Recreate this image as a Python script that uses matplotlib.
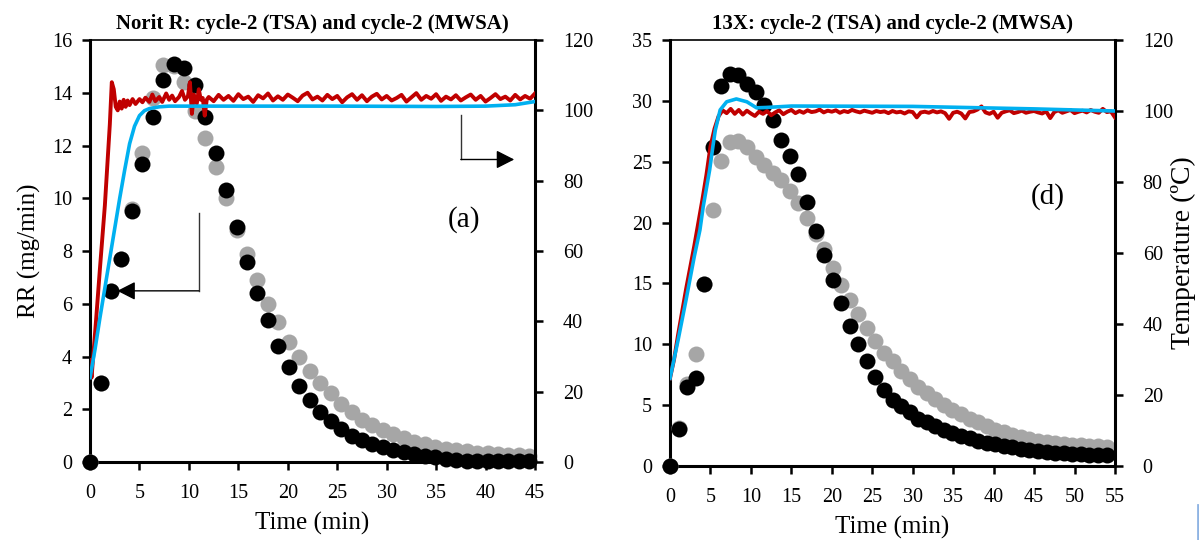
import numpy as np
import matplotlib
matplotlib.use('Agg')
from matplotlib import pyplot as plt
from matplotlib.lines import Line2D

plt.rcParams['font.family'] = ['Liberation Serif', 'DejaVu Serif']

# sampling interval of the RR points (min)
dt = 1.058

# ---- Norit R (a) ----
rr_a_tsa = [0, 3.0, 6.5, 7.7, 9.5, 11.3, 13.1, 14.5, 15.1, 14.95, 14.3, 13.1, 11.7, 10.3, 8.9,
            7.6, 6.4, 5.4, 4.4, 3.6, 2.9, 2.35, 1.9, 1.55, 1.25, 1.0, 0.83, 0.68, 0.57, 0.45,
            0.38, 0.3, 0.23, 0.19, 0.12, 0.08, 0.05, 0.04, 0.03, 0.03, 0.02, 0.02, 0.02]
rr_a_mwsa = [0, 3.0, 6.5, 7.7, 9.6, 11.7, 13.8, 15.07, 15.0, 14.4, 13.3, 12.3, 11.2, 10.0, 8.8,
             7.9, 6.9, 6.0, 5.3, 4.55, 4.0, 3.45, 3.0, 2.6, 2.2, 1.9, 1.6, 1.4, 1.2, 1.06,
             0.9, 0.76, 0.68, 0.57, 0.5, 0.45, 0.4, 0.36, 0.33, 0.3, 0.28, 0.26, 0.24]

temp_a_red_t = [0, 0.15, 0.6, 1.0, 1.5, 2.0, 2.2, 2.4, 2.6, 2.8, 3.0, 3.2, 3.4, 3.6, 3.8, 4.0,
                4.3, 4.6, 5.0, 5.3, 5.6, 6.0, 6.3, 6.6, 7.0, 7.3, 7.7, 8.0, 8.3, 8.6, 9.0, 9.3,
                9.6, 9.9, 10.1, 10.3, 10.5, 10.8, 11.0, 11.2, 11.4, 11.6, 11.8]
temp_a_red = [29, 24, 40, 55, 73, 96, 108, 106, 101, 100, 102.5, 100.5, 103, 101, 102.8, 101.5,
              103.2, 101.8, 103.2, 102.3, 103.6, 102.4, 104.5, 102.6, 103.8, 102.4, 104.8, 103,
              104.2, 102.6, 103.8, 105.5, 103, 104, 108, 99, 104.5, 102, 106, 103, 103.5, 98.5, 103]
# red plateau, 12 -> 45 min
temp_a_red_plat = [103.8, 102.6, 104.4, 103.0, 104.1, 102.7, 104.6, 103.2, 103.9, 102.4,
                   104.3, 103.4, 104.8, 102.8, 104.0, 103.0, 104.5, 103.6, 102.6, 104.2,
                   105.0, 103.1, 103.9, 102.8, 104.4, 103.2, 104.1, 102.3, 103.7, 104.6,
                   103.0, 104.3, 102.6, 103.9, 104.7, 103.1, 104.1, 102.8, 103.5, 104.4,
                   102.5, 103.7, 104.9, 103.0, 104.1, 103.3, 104.6, 102.7, 103.9, 103.1,
                   104.3, 102.8, 103.7, 104.5, 103.0, 104.1, 102.5, 103.5, 104.6, 103.2,
                   103.9, 102.8, 104.4, 103.1, 104.1, 103.3, 104.8]
temp_a_blue_t = [0, 0.5, 1, 2, 3, 3.5, 4, 4.5, 5, 5.5, 6, 7, 8, 15, 25, 35, 40, 43, 45]
temp_a_blue = [24, 32, 41, 58, 75, 83, 90.5, 95.5, 98.5, 99.9, 100.5, 101, 101.2, 101.2, 101.2,
               101.1, 101.2, 101.6, 102.5]

# ---- 13X (d) ----
rr_d_tsa = [0, 3.07, 6.5, 7.2, 14.95, 26.2, 31.2, 32.2, 32.1, 31.4, 30.7, 29.7, 28.4, 26.8, 25.5,
            24.0, 21.7, 19.3, 17.3, 15.3, 13.4, 11.5, 10.0, 8.6, 7.3, 6.25, 5.45, 4.9, 4.4, 3.9,
            3.6, 3.25, 2.96, 2.7, 2.46, 2.27, 2.08, 1.92, 1.78, 1.64, 1.53, 1.42, 1.31, 1.23,
            1.16, 1.1, 1.05, 1.0, 0.96, 0.93, 0.9, 0.88]
rr_d_mwsa = [0, 3.1, 6.7, 9.2, 14.95, 21.0, 25.1, 26.6, 26.7, 26.2, 25.4, 24.7, 24.1, 23.5, 22.6,
             21.6, 20.4, 19.1, 17.8, 16.3, 14.9, 13.6, 12.5, 11.3, 10.3, 9.3, 8.6, 7.8, 7.15, 6.5,
             5.97, 5.5, 5.0, 4.6, 4.25, 3.9, 3.6, 3.3, 3.0, 2.77, 2.55, 2.36, 2.2, 2.07, 1.97,
             1.88, 1.8, 1.74, 1.69, 1.65, 1.62, 1.6]

temp_d_red_t = [0, 0.5, 1, 2, 3, 4, 4.5, 5, 5.5, 6]
temp_d_red = [24.7, 30, 37, 50, 62, 75, 82, 90, 95, 98.5]
# red plateau, 6.5 -> 55 min
temp_d_red_plat = [100.2, 99.4, 100.6, 99.2, 100.3, 99.0, 100.1, 99.3, 98.6, 99.8,
                   99.2, 100.0, 98.8, 99.6, 100.2, 99.1, 99.8, 100.3, 99.4, 100.0,
                   99.5, 100.2, 99.7, 99.9, 100.4, 99.6, 100.1, 99.8, 100.2, 99.5,
                   100.0, 99.7, 100.3, 99.9, 99.6, 100.1, 99.8, 99.5, 100.0, 99.7,
                   99.9, 99.4, 100.0, 99.6, 99.8, 99.3, 99.9, 99.7, 98.2, 99.6,
                   99.8, 99.5, 100.0, 99.6, 99.9, 99.4, 97.8, 99.5, 99.8, 99.3,
                   97.9, 99.7, 99.9, 100.4, 101.3, 99.6, 99.2, 99.8, 98.1, 99.5,
                   99.9, 100.2, 99.4, 99.7, 100.1, 99.5, 99.8, 100.0, 99.6, 99.3,
                   99.9, 98.0, 99.7, 100.2, 99.5, 99.9, 100.3, 99.4, 99.8, 100.1,
                   99.6, 100.3, 99.8, 99.5, 100.6, 99.7, 99.9, 98.2]
temp_d_blue_t = [0, 1, 2, 3, 3.7, 4.1, 4.9, 5.3, 5.6, 6.2, 7.0, 8.2, 9.5, 10.7, 11.9, 15, 30, 45, 55]
temp_d_blue = [24.7, 35.5, 47, 59, 66.5, 73, 83.4, 90, 94.6, 100.3, 102.6, 103.4, 102.6, 100.9,
               101.0, 101.4, 101.3, 100.6, 100.0]

red = '#c00000'
blue = '#00b0f0'
gray = '#a6a6a6'
fs_tick = 14.5
fs_lab = 18


def style(ax, ax2):
    for s in ['left', 'bottom']:
        ax.spines[s].set_linewidth(2.2)
    ax.spines['top'].set_linewidth(1.2)
    ax.spines['right'].set_visible(False)
    for s in ['left', 'top', 'bottom']:
        ax2.spines[s].set_visible(False)
    ax2.spines['right'].set_linewidth(2.2)
    ax.tick_params(direction='out', length=6, width=1.8, labelsize=fs_tick, pad=7, top=False)
    ax.tick_params(axis='x', pad=10)
    ax2.tick_params(direction='out', length=6, width=1.8, labelsize=fs_tick, pad=14)


def panel(rect, title, rr_tsa, rr_mwsa, red_t, red_T, red_plat, plat_start, blue_t, blue_T, xmax, ymax, ystep):
    ax = fig.add_axes(rect)
    ax2 = ax.twinx()
    t_tsa = np.arange(len(rr_tsa)) * dt
    t_mwsa = np.arange(len(rr_mwsa)) * dt
    ax.plot(t_mwsa, rr_mwsa, 'o', color=gray, ms=11.5, mec='none', clip_on=False, zorder=3)
    ax.plot(t_tsa, rr_tsa, 'o', color='black', ms=11.5, mec='none', clip_on=False, zorder=4)
    rt = list(red_t) + list(np.linspace(plat_start, xmax, len(red_plat)))
    rT = list(red_T) + list(red_plat)
    ax2.plot(rt, rT, color=red, lw=2.8, zorder=3)
    ax2.plot(blue_t, blue_T, color=blue, lw=2.6, zorder=4)
    ax.set_xlim(0, xmax)
    ax.set_ylim(0, ymax)
    ax2.set_ylim(0, 120)
    ax.set_xticks(range(0, xmax + 1, 5))
    ax.set_yticks(np.arange(0, ymax + 0.1, ystep))
    ax2.set_yticks(range(0, 121, 20))
    ax.set_xlabel('Time (min)', fontsize=fs_lab, labelpad=6)
    ax.set_title(title, fontsize=15, fontweight='bold', pad=8)
    style(ax, ax2)
    return ax, ax2


fig = plt.figure(figsize=(11.99, 5.40), dpi=100)

axa, axa2 = panel([0.0751, 0.1444, 0.3711, 0.7815], 'Norit R: cycle-2 (TSA) and cycle-2 (MWSA)',
                  rr_a_tsa, rr_a_mwsa, temp_a_red_t, temp_a_red, temp_a_red_plat, 12,
                  temp_a_blue_t, temp_a_blue, 45, 16, 2)
axa.set_ylabel('RR (mg/min)', fontsize=fs_lab, labelpad=8)
axa.text(37.8, 9.2, '(a)', fontsize=21, ha='center', va='center')

# arrows
arr = dict(arrowstyle='-|>,head_length=0.55,head_width=0.28', color='black', lw=1.0,
           mutation_scale=20, shrinkA=0, shrinkB=0)
axa.plot([11.0, 11.0], [9.43, 6.49], color='#333333', lw=1.0)
axa.annotate('', xy=(2.76, 6.49), xytext=(11.0, 6.49), arrowprops=arr)
axa.plot([37.5, 37.5], [13.14, 11.47], color='#333333', lw=1.0)
axa.annotate('', xy=(42.9, 11.47), xytext=(37.5, 11.47), arrowprops=arr)

axd, axd2 = panel([0.5588, 0.1370, 0.3711, 0.7889], '13X: cycle-2 (TSA) and cycle-2 (MWSA)',
                  rr_d_tsa, rr_d_mwsa, temp_d_red_t, temp_d_red, temp_d_red_plat, 6.5,
                  temp_d_blue_t, temp_d_blue, 55, 35, 5)
axd2.set_ylabel('Temperature (ºC)', fontsize=20)
axd2.yaxis.set_label_coords(1.125, 0.5)
axd.text(46.7, 22.1, '(d)', fontsize=21, ha='center', va='center')

fig.add_artist(Line2D([1197.5 / 1199, 1197.5 / 1199], [0, 35 / 540], color='#8fb4e3', lw=2))

plt.savefig('out.png', dpi=100)
plt.close()
